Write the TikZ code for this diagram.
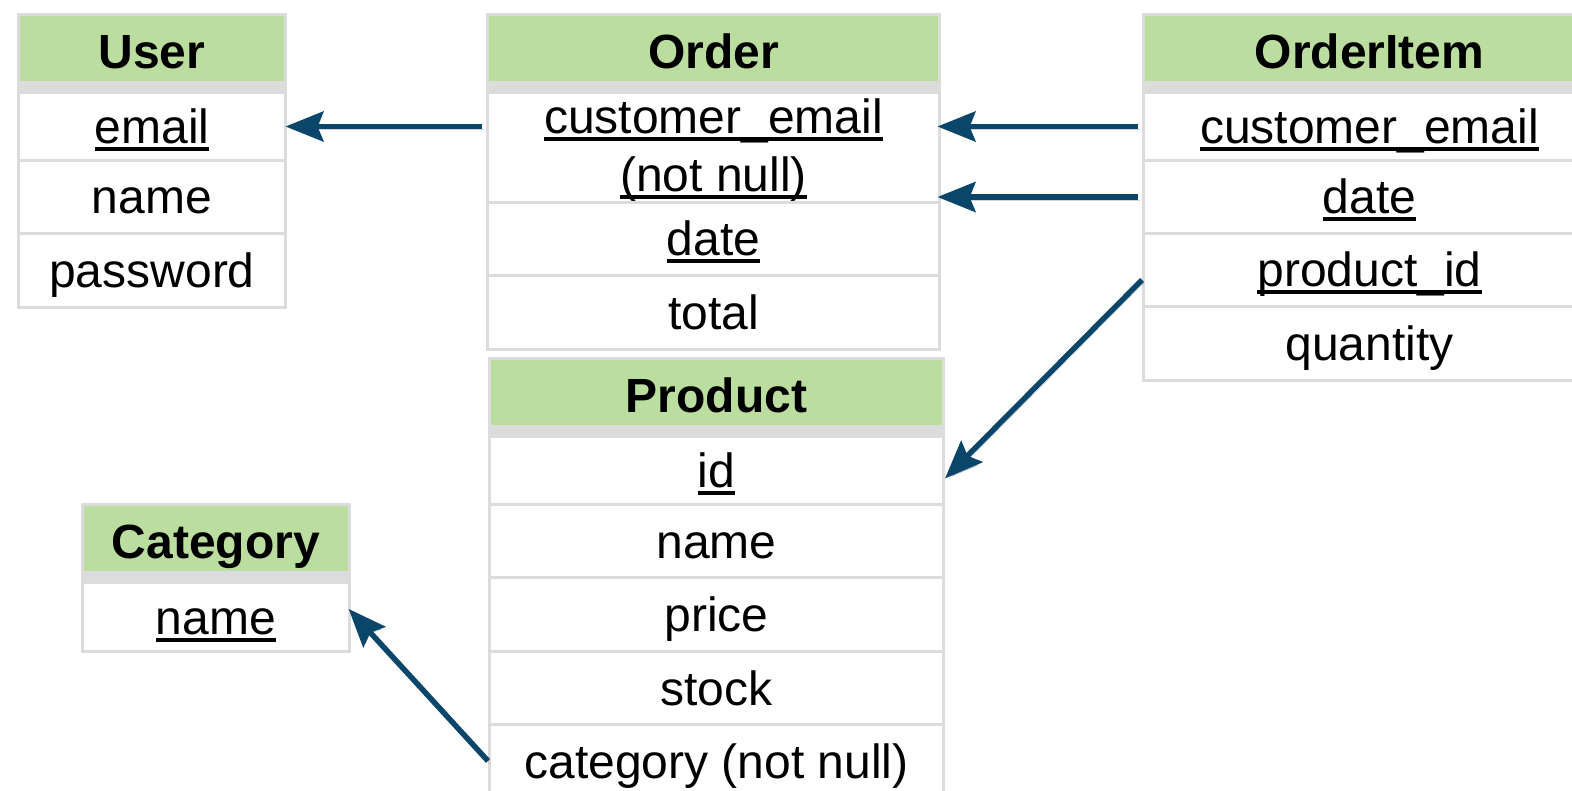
\documentclass[tikz,border=0pt]{standalone}
\usepackage{fontspec}
\setmainfont{Liberation Sans}
\usetikzlibrary{arrows.meta}
\definecolor{hdrgreen}{RGB}{187,222,160}
\definecolor{rulegray}{RGB}{220,220,220}
\definecolor{fkblue}{RGB}{10,70,106}
\newcommand{\pkey}[1]{\setbox0\hbox{#1}\rlap{\rule[-7.5pt]{\wd0}{4pt}}\box0}
\tikzset{
  tbl/.style = {rectangle, draw=rulegray, line width=3pt, inner sep=0pt, anchor=north west},
  hdr/.style = {tbl, fill=hdrgreen, minimum height=68pt, text height=45pt, text depth=5pt,
                font=\fontsize{48}{58}\selectfont\bfseries},
  band/.style = {tbl, fill=rulegray, minimum height=10pt},
  field/.style = {tbl, fill=white, minimum height=#1, text height=42pt, text depth=8pt,
                  font=\fontsize{48}{58}\selectfont},
  field/.default = 73pt,
  twoline/.style = {text height=99pt, text depth=11pt, align=center}
}
\begin{document}
\begin{tikzpicture}[x=1pt, y=-1pt]
\useasboundingbox (0,0) rectangle (1572,791);
\begin{scope}[every node/.append style = {minimum width=267pt}]
\node[hdr] (user) at (17,13) {User};
\node[band] (user-band) at (17,81) {};
\node[field=68pt] (user-email) at (17,91) {\pkey{email}};
\node[field] (user-name) at (17,159) {name};
\node[field=74pt] (user-pw) at (17,232) {password};
\node[hdr] (category) at (81,503) {Category};
\node[band] (cat-band) at (81,571) {};
\node[field=69pt] (cat-name) at (81,581) {\pkey{name}};
\end{scope}
\begin{scope}[every node/.append style = {minimum width=452pt}]
\node[hdr] (order) at (486,13) {Order};
\node[band] (order-band) at (486,81) {};
\node[field=110pt, twoline] (order-email) at (486,91) {\pkey{customer\_email}\\\pkey{(not null)}};
\node[field] (order-date) at (486,201) {\pkey{date}};
\node[field=74pt] (order-total) at (486,274) {total};
\node[hdr] (item) at (1142,13) {OrderItem};
\node[band] (item-band) at (1142,81) {};
\node[field=68pt] (item-email) at (1142,91) {\pkey{customer\_email}};
\node[field] (item-date) at (1142,159) {\pkey{date}};
\node[field] (item-pid) at (1142,232) {\pkey{product\_id}};
\node[field=74pt] (item-qty) at (1142,305) {quantity};
\end{scope}
\begin{scope}[every node/.append style = {minimum width=454pt}]
\node[hdr] (product) at (488,357) {Product};
\node[band] (prod-band) at (488,425) {};
\node[field=68pt] (prod-id) at (488,435) {\pkey{id}};
\node[field] (prod-name) at (488,503) {name};
\node[field=74pt] (prod-price) at (488,576) {price};
\node[field] (prod-stock) at (488,650) {stock};
\node[field] (prod-cat) at (488,723) {category (not null)};
\end{scope}
\begin{scope}[every edge/.style = {draw=fkblue, line width=5.5pt,
    -{Stealth[length=38pt, width=30pt, inset=6pt]},
    preaction={draw=black, opacity=0.18, transform canvas={shift={(2pt,-3pt)}}}}]
\path (order-email.west |- user-email.east) edge[shorten <=4.5pt, shorten >=-1.5pt] (user-email.east);
\path (item-email.west) edge[shorten <=4.5pt, shorten >=-3.5pt] (item-email.west -| order-email.east);
\path (item-date.west) edge[shorten <=4.5pt, shorten >=-3.5pt] (item-date.west -| order-email.east);
\path ([yshift=-10pt]item-pid.west) edge ([yshift=-8pt]prod-id.east);
\path (prod-cat.west) edge[shorten >=-3.5pt] ([yshift=5.5pt]cat-name.east);
\end{scope}
\end{tikzpicture}
\end{document}
